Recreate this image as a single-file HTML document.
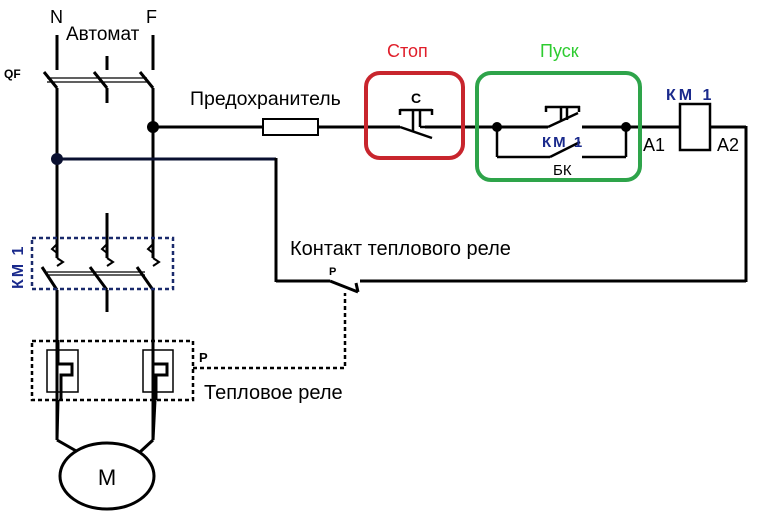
<!DOCTYPE html>
<html><head><meta charset="utf-8"><style>
html,body{margin:0;padding:0;background:#fff;}
svg{display:block}
text{font-family:"Liberation Sans",sans-serif;}
</style></head><body>
<svg width="780" height="512" viewBox="0 0 780 512" xmlns="http://www.w3.org/2000/svg">
<rect width="780" height="512" fill="#fff"/>
<g stroke="#000" stroke-width="3" fill="none">
<line x1="57" y1="35" x2="57" y2="70"/>
<line x1="107" y1="56" x2="107" y2="70"/>
<line x1="153" y1="35" x2="153" y2="70"/>
<line x1="44" y1="72" x2="57" y2="88"/>
<line x1="94" y1="72" x2="107" y2="88"/>
<line x1="140" y1="72" x2="153" y2="88"/>
<line x1="107" y1="88" x2="107" y2="103"/>
<line x1="57" y1="88" x2="57" y2="258"/>
<line x1="153" y1="88" x2="153" y2="258"/>
<line x1="107" y1="213" x2="107" y2="258"/>
<line x1="42" y1="267" x2="57" y2="290"/>
<line x1="90" y1="267" x2="107" y2="290"/>
<line x1="137" y1="267" x2="153" y2="290"/>
<line x1="57" y1="290" x2="57" y2="440"/>
<line x1="153" y1="290" x2="153" y2="440"/>
<line x1="107" y1="290" x2="107" y2="312"/>
<line x1="57" y1="440" x2="78" y2="452"/>
<line x1="153" y1="440" x2="140" y2="452"/>
<line x1="153" y1="127" x2="263" y2="127"/>
<line x1="318" y1="127" x2="400" y2="127"/>
<line x1="425" y1="127" x2="548" y2="127"/>
<line x1="582" y1="127" x2="680" y2="127"/>
<line x1="710" y1="127" x2="746" y2="127"/>
<line x1="746" y1="126" x2="746" y2="282"/>
<line x1="57" y1="159" x2="276" y2="159" stroke="#0a1030"/>
<line x1="276" y1="158" x2="276" y2="282"/>
<line x1="276" y1="281" x2="330" y2="281"/>
<line x1="360" y1="281" x2="746" y2="281"/>
<line x1="330" y1="281" x2="358" y2="292"/>
<line x1="358" y1="292" x2="356" y2="283"/>
<line x1="497" y1="127" x2="497" y2="157" stroke-width="2.5"/>
<line x1="497" y1="157" x2="550" y2="157" stroke-width="2.5"/>
<line x1="550" y1="157" x2="580" y2="142" stroke-width="2.5"/>
<line x1="582" y1="157" x2="626" y2="157" stroke-width="2.5"/>
<line x1="626" y1="127" x2="626" y2="157" stroke-width="2.5"/>
<line x1="548" y1="127" x2="578" y2="113" stroke-width="2.5"/>
<line x1="545" y1="107" x2="580" y2="107" stroke-width="2.5"/>
<line x1="561" y1="107" x2="561" y2="120" stroke-width="2.5"/>
<line x1="567" y1="107" x2="567" y2="120" stroke-width="2.5"/>
<line x1="546" y1="106" x2="546" y2="112" stroke-width="2.5"/>
<line x1="579" y1="106" x2="579" y2="112" stroke-width="2.5"/>
<line x1="400" y1="127" x2="432" y2="138" stroke-width="2.5"/>
<line x1="400" y1="110" x2="432" y2="110" stroke-width="2.5"/>
<line x1="413" y1="110" x2="413" y2="132" stroke-width="2.5"/>
<line x1="420" y1="110" x2="420" y2="127" stroke-width="2.5"/>
<line x1="420" y1="127" x2="430" y2="127" stroke-width="2.5"/>
<line x1="400" y1="109" x2="400" y2="115" stroke-width="2.5"/>
<line x1="432" y1="109" x2="432" y2="115" stroke-width="2.5"/>
</g>
<g stroke="#000" stroke-width="1.2">
<line x1="47" y1="78" x2="147" y2="78"/><line x1="47" y1="82" x2="147" y2="82"/>
<line x1="47" y1="272" x2="145" y2="272"/><line x1="47" y1="275" x2="145" y2="275"/>
</g>
<g stroke="#000" stroke-width="2" fill="none">
<path d="M57 244 L52 249 L57 253 M57 258 L63 262 L57 266"/>
<path d="M107 244 L102 249 L107 253 M107 258 L113 262 L107 266"/>
<path d="M153 244 L148 249 L153 253 M153 258 L159 262 L153 266"/>
</g>
<circle cx="153" cy="127" r="6" fill="#000"/>
<circle cx="57" cy="159" r="6" fill="#0a1030"/>
<circle cx="497" cy="127" r="5" fill="#000"/>
<circle cx="626" cy="127" r="5" fill="#000"/>
<rect x="263" y="119" width="55" height="16" fill="#fff" stroke="#000" stroke-width="2"/>
<rect x="680" y="104" width="30" height="46" fill="#fff" stroke="#000" stroke-width="2.5"/>
<rect x="366" y="73" width="97" height="85" rx="14" fill="none" stroke="#c8252d" stroke-width="4"/>
<rect x="477" y="73" width="163" height="107" rx="14" fill="none" stroke="#2ea44a" stroke-width="4"/>
<rect x="32" y="238" width="141" height="51" fill="none" stroke="#1a2a6c" stroke-width="2.5" stroke-dasharray="4,3"/>
<rect x="32" y="341" width="161" height="59" fill="none" stroke="#000" stroke-width="2.5" stroke-dasharray="4,3"/>
<polyline points="193,368 345,368 345,293" fill="none" stroke="#000" stroke-width="2.5" stroke-dasharray="4,3"/>
<g fill="none" stroke="#000">
<rect x="47" y="350" width="31" height="42" stroke-width="1.5"/>
<rect x="143" y="350" width="30" height="42" stroke-width="1.5"/>
<path d="M58 340 V364 H72 V375 H61 V400" stroke-width="3"/>
<path d="M153 340 V364 H167 V375 H156 V400" stroke-width="3"/>
<line x1="58" y1="400" x2="57" y2="440" stroke-width="3"/>
<line x1="155" y1="400" x2="153" y2="440" stroke-width="3"/>
</g>
<ellipse cx="107" cy="476" rx="47" ry="33" fill="#fff" stroke="#000" stroke-width="3"/>
<text x="107" y="485" font-size="22" text-anchor="middle">M</text>
<text x="50" y="23" font-size="18">N</text>
<text x="146" y="23" font-size="18">F</text>
<text x="66" y="40" font-size="19">Автомат</text>
<text x="4" y="78" font-size="12" font-weight="bold">QF</text>
<text x="190" y="105" font-size="19.5">Предохранитель</text>
<text x="387" y="57" font-size="18" fill="#e01e2a">Стоп</text>
<text x="540" y="57" font-size="18" fill="#2ecc30">Пуск</text>
<text x="411" y="103" font-size="14" font-weight="bold">C</text>
<text x="542" y="147" font-size="15" font-weight="bold" fill="#1a2a8c" letter-spacing="2">КМ 1</text>
<text x="553" y="175" font-size="15">БК</text>
<text x="666" y="100" font-size="16" font-weight="bold" fill="#1a2a8c" letter-spacing="3">КМ 1</text>
<text x="643" y="151" font-size="18">A1</text>
<text x="717" y="151" font-size="18">A2</text>
<text x="290" y="255" font-size="20">Контакт теплового реле</text>
<text x="329" y="275" font-size="11" font-weight="bold">P</text>
<text x="199" y="362" font-size="13" font-weight="bold">P</text>
<text x="204" y="399" font-size="20">Тепловое реле</text>
<text transform="translate(23,289) rotate(-90)" font-size="16" font-weight="bold" fill="#1a2a8c" letter-spacing="2">КМ 1</text>
</svg>
</body></html>
